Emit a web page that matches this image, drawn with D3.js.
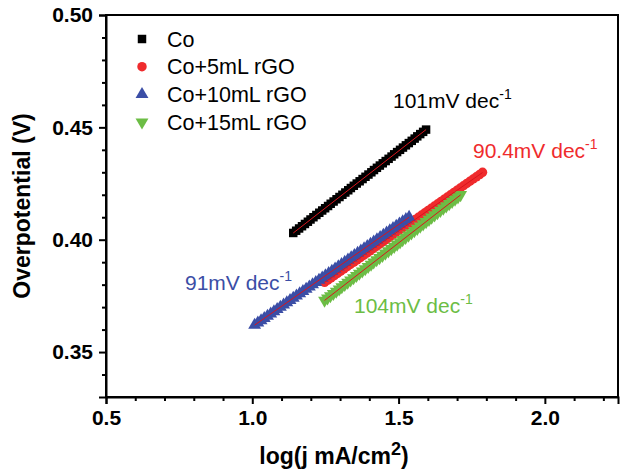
<!DOCTYPE html>
<html><head><meta charset="utf-8">
<script src="https://cdn.jsdelivr.net/npm/d3@7"></script>
<style>body{margin:0;background:#fff}svg{display:block}</style>
</head><body>
<script>
// ---- data ----
const seriesNames = ["Co", "Co+5mL rGO", "Co+10mL rGO", "Co+15mL rGO"];
const slopeLabels = ["101mV dec", "90.4mV dec", "91mV dec", "104mV dec"];
const xTicks = [0.5, 1.0, 1.5, 2.0];
const yTicks = [0.35, 0.40, 0.45, 0.50];

const coX = [1.140,1.150,1.160,1.170,1.180,1.190,1.199,1.209,1.219,1.229,1.239,1.249,1.259,1.268,1.278,1.288,1.298,1.308,1.318,1.328,1.337,1.347,1.357,1.367,1.377,1.387,1.397,1.407,1.416,1.426,1.436,1.446,1.456,1.466,1.476,1.485,1.495,1.505,1.515,1.525,1.535,1.545,1.555,1.564,1.574,1.584,1.594];
const coY = [0.403,0.404,0.405,0.406,0.407,0.408,0.409,0.410,0.411,0.412,0.413,0.414,0.415,0.416,0.417,0.418,0.419,0.420,0.421,0.422,0.423,0.424,0.425,0.426,0.427,0.428,0.429,0.430,0.431,0.432,0.433,0.434,0.435,0.436,0.437,0.438,0.439,0.440,0.441,0.442,0.443,0.444,0.445,0.446,0.447,0.448,0.449];

const r5X = [1.247,1.258,1.269,1.280,1.291,1.302,1.313,1.324,1.335,1.347,1.358,1.369,1.380,1.391,1.402,1.413,1.424,1.435,1.446,1.457,1.468,1.479,1.490,1.501,1.512,1.523,1.535,1.546,1.557,1.568,1.579,1.590,1.601,1.612,1.623,1.634,1.645,1.656,1.667,1.678,1.689,1.700,1.711,1.722,1.733,1.744,1.755,1.766,1.777,1.787];
const r5Y = [0.381,0.382,0.383,0.384,0.385,0.386,0.387,0.388,0.389,0.390,0.391,0.392,0.393,0.394,0.395,0.396,0.397,0.398,0.399,0.400,0.401,0.402,0.403,0.404,0.405,0.406,0.407,0.408,0.409,0.410,0.411,0.412,0.413,0.414,0.415,0.416,0.417,0.418,0.419,0.420,0.421,0.422,0.423,0.424,0.425,0.426,0.427,0.428,0.429,0.430];

const r10X = [1.008,1.019,1.030,1.041,1.052,1.063,1.074,1.085,1.096,1.107,1.118,1.129,1.140,1.151,1.162,1.173,1.184,1.195,1.206,1.217,1.228,1.239,1.250,1.261,1.272,1.283,1.294,1.305,1.316,1.327,1.338,1.349,1.360,1.371,1.382,1.393,1.404,1.415,1.426,1.437,1.448,1.459,1.470,1.481,1.492,1.503,1.514,1.525,1.536];
const r10Y = [0.362,0.363,0.364,0.365,0.366,0.367,0.368,0.369,0.370,0.371,0.372,0.373,0.374,0.375,0.376,0.377,0.378,0.379,0.380,0.381,0.382,0.383,0.384,0.385,0.386,0.387,0.388,0.389,0.390,0.391,0.392,0.393,0.394,0.395,0.396,0.397,0.398,0.399,0.400,0.401,0.402,0.403,0.404,0.405,0.406,0.407,0.408,0.409,0.410];

const r15X = [1.247,1.257,1.267,1.277,1.287,1.297,1.306,1.316,1.326,1.336,1.346,1.356,1.366,1.376,1.386,1.396,1.406,1.415,1.425,1.435,1.445,1.455,1.465,1.475,1.485,1.495,1.505,1.514,1.524,1.534,1.544,1.554,1.564,1.574,1.584,1.594,1.604,1.613,1.623,1.633,1.643,1.653,1.663,1.673,1.683,1.693,1.703,1.712];
const r15Y = [0.373,0.374,0.375,0.376,0.377,0.378,0.379,0.380,0.381,0.382,0.383,0.384,0.385,0.386,0.387,0.388,0.389,0.390,0.391,0.392,0.393,0.394,0.395,0.396,0.397,0.398,0.399,0.400,0.401,0.402,0.403,0.404,0.405,0.406,0.407,0.408,0.409,0.410,0.411,0.412,0.413,0.414,0.415,0.416,0.417,0.418,0.419,0.420];

// ---- chart ----
const W = 626, H = 474;
const m = {left:106, top:15, right:8, bottom:77};
const colors = ["#000000", "#ef2b2d", "#3b4ea6", "#6cbd45"];
const fitColor = "#d9141c";
const shapes = [d3.symbolSquare, d3.symbolCircle, d3.symbolTriangle, d3.symbolTriangle];
const sizes = [72, 70, 72, 72];
const rot = [0, 0, 0, 180];

const svg = d3.select("body").append("svg").attr("width", W).attr("height", H)
  .style("font-family", "Arial, 'Liberation Sans', sans-serif");

const x = d3.scaleLinear().domain([0.5, 2.25]).range([m.left, W - m.right]);
const y = d3.scaleLinear().domain([0.33, 0.50]).range([H - m.bottom, m.top]);

// frame
svg.append("rect").attr("x", x(0.5)).attr("y", y(0.50))
  .attr("width", x(2.25) - x(0.5)).attr("height", y(0.33) - y(0.50))
  .attr("fill", "none").attr("stroke", "#000").attr("stroke-width", 2);

// axes
svg.append("g").attr("transform", `translate(0,${y(0.33)})`)
  .call(d3.axisBottom(x).tickValues(xTicks).tickFormat(d3.format(".1f")).tickSize(7).tickPadding(6));
svg.append("g").attr("transform", `translate(0,${y(0.33)})`)
  .call(d3.axisBottom(x).tickValues(d3.range(6, 23).map(d => d / 10).filter(d => Math.abs(d*2 - Math.round(d*2)) > 1e-6)).tickFormat("").tickSize(4))
  .call(g => g.select(".domain").remove());
svg.append("g").attr("transform", `translate(${x(0.5)},0)`)
  .call(d3.axisLeft(y).tickValues(yTicks).tickFormat(d3.format(".2f")).tickSize(7).tickPadding(6));
svg.append("g").attr("transform", `translate(${x(0.5)},0)`)
  .call(d3.axisLeft(y).tickValues(d3.range(34, 50).map(d => d / 100).filter(d => Math.abs(d*20 - Math.round(d*20)) > 1e-6)).tickFormat("").tickSize(4))
  .call(g => g.select(".domain").remove());

svg.selectAll(".domain").attr("stroke-width", 2);
svg.selectAll(".tick line").attr("stroke-width", 2);
svg.selectAll(".tick text").attr("font-size", 21).attr("font-weight", "bold")
  .attr("font-family", "Arial, 'Liberation Sans', sans-serif").attr("fill", "#000");

// axis titles
svg.append("text").attr("transform", `translate(30,${(y(0.33)+y(0.50))/2}) rotate(-90)`)
  .attr("text-anchor", "middle").attr("font-size", 23).attr("font-weight", "bold")
  .text("Overpotential (V)");
const xt = svg.append("text").attr("x", 334).attr("y", 464)
  .attr("text-anchor", "middle").attr("font-size", 23).attr("font-weight", "bold");
xt.append("tspan").text("log(j mA/cm");
xt.append("tspan").attr("dy", -9).attr("font-size", 18).text("2");
xt.append("tspan").attr("dy", 9).text(")");

// series
const series = [[coX, coY], [r5X, r5Y], [r10X, r10Y], [r15X, r15Y]];
const plot = svg.append("g");
series.forEach(([xs, ys], i) => {
  const sym = d3.symbol().type(shapes[i]).size(sizes[i]);
  plot.append("g").selectAll("path").data(xs.map((v, k) => [v, ys[k]])).join("path")
    .attr("d", sym)
    .attr("transform", d => `translate(${x(d[0])},${y(d[1])}) rotate(${rot[i]})`)
    .attr("fill", colors[i]);
});
// fitted lines (least squares through each series)
series.forEach(([xs, ys]) => {
  const mx = d3.mean(xs), my = d3.mean(ys);
  const b = d3.sum(xs, (v, k) => (v - mx) * (ys[k] - my)) / d3.sum(xs, v => (v - mx) ** 2);
  const a = my - b * mx;
  const ext = d3.extent(xs);
  plot.append("line").attr("x1", x(ext[0])).attr("y1", y(a + b * ext[0]))
    .attr("x2", x(ext[1])).attr("y2", y(a + b * ext[1]))
    .attr("stroke", fitColor).attr("stroke-width", 1);
});

// legend
const lg = svg.append("g");
seriesNames.forEach((n, i) => {
  const cy = 39 + i * 27.7;
  lg.append("path").attr("d", d3.symbol().type(shapes[i]).size(sizes[i])())
    .attr("transform", `translate(142,${cy}) rotate(${rot[i]})`).attr("fill", colors[i]);
  lg.append("text").attr("x", 167).attr("y", cy + 7.5).attr("font-size", 21.5).text(n);
});

// slope annotations
const annPos = [[393, 108], [473, 158], [185, 290], [354, 313]];
slopeLabels.forEach((t, i) => {
  const tx = svg.append("text").attr("x", annPos[i][0]).attr("y", annPos[i][1])
    .attr("font-size", 21).attr("fill", colors[i]);
  tx.append("tspan").text(t);
  tx.append("tspan").attr("dy", -9).attr("font-size", 14).text("-1");
});
</script>
</body></html>
